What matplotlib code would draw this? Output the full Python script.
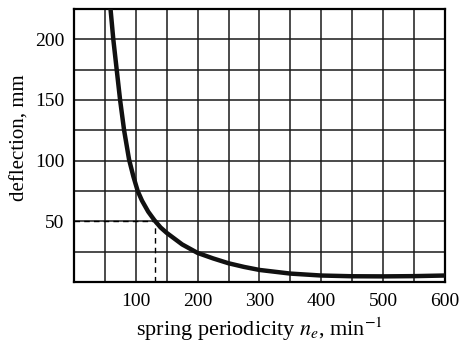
import numpy as np
import matplotlib
matplotlib.use("Agg")
import matplotlib.pyplot as plt

# ----------- DATA -------------------------------------
n_e = [59, 63.5, 69, 74.5, 81, 89, 96, 103, 110, 120, 130, 140, 150, 175, 200, 225,
       250, 275, 300, 350, 400, 450, 500, 550, 600]
deflection = [225, 200, 175, 150, 125, 101, 87, 75, 67, 58, 51, 45, 40.5, 31, 24, 19.5,
              15.5, 12.5, 10, 7, 5.4, 4.8, 4.7, 4.9, 5.4]

marker_n = 131
marker_f = 50

x_ticks = [100, 200, 300, 400, 500, 600]
y_ticks = [50, 100, 150, 200]

# ----------- STYLE ------------
plt.rcParams["font.family"] = ["Liberation Serif", "DejaVu Serif"]
plt.rcParams["mathtext.fontset"] = "stix"

fig = plt.figure(figsize=(4.6, 3.44), dpi=100)
ax = fig.add_axes([0.161, 0.180, 0.806, 0.794])

ax.set_xlim(0, 600)
ax.set_ylim(0, 225)

# grid every 50 on x, every 25 on y
ax.set_xticks(x_ticks)
ax.set_yticks(y_ticks)
ax.set_xticks(np.arange(0, 601, 50), minor=True)
ax.set_yticks(np.arange(0, 226, 25), minor=True)
ax.grid(which="both", color="#1a1a1a", linewidth=1.1)
ax.set_axisbelow(True)

ax.tick_params(which="both", length=0, labelsize=14)
ax.tick_params(axis="x", pad=8)
ax.tick_params(axis="y", pad=7)

for s in ax.spines.values():
    s.set_linewidth(1.6)

# dashed guide lines
ax.plot([0, marker_n], [marker_f, marker_f], color="black", linestyle=(0, (4, 3)), linewidth=1)
ax.plot([marker_n, marker_n], [0, marker_f], color="black", linestyle=(0, (4, 3)), linewidth=1)

ax.plot(n_e, deflection, color="#111111", linewidth=3.2, solid_joinstyle="round", zorder=5)

ax.set_xlabel(r"spring periodicity $n_e$, min$^{-1}$", fontsize=16, labelpad=4)
ax.set_ylabel("deflection, mm", fontsize=15)
ax.yaxis.set_label_coords(-0.12, 0.53)

fig.savefig("out.png", dpi=100)
